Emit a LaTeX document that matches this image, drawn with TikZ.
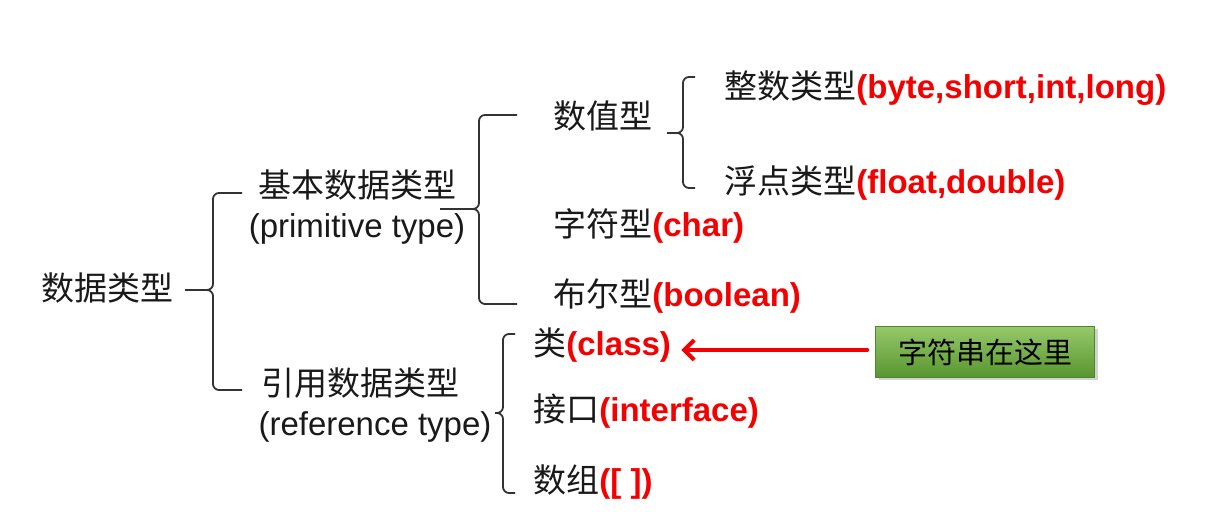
\documentclass[tikz,border=0pt]{standalone}
\usepackage{fontspec}
\setmainfont{Liberation Sans}
\newfontfamily\cjk{Noto Sans CJK SC}
\usepackage{tikz}
\usetikzlibrary{arrows.meta,positioning,shadows}

\definecolor{hlred}{RGB}{245,0,0}
\definecolor{boxtop}{RGB}{150,200,106}
\definecolor{boxbot}{RGB}{88,150,48}
\newcommand{\zh}[1]{{\cjk #1}}
\newcommand{\hl}[1]{\textcolor{hlred}{\bfseries #1}}
% brace: tip x, tip y, spine x, top y, bottom y, arm x
\newcommand{\curly}[6]{%
  \draw[brk] (#1,#2) -| (#3,#4) -- (#6,#4);
  \draw[brk] (#1,#2) -| (#3,#5) -- (#6,#5);}

\begin{document}
\begin{tikzpicture}[x=0.5pt, y=-0.5pt,
  lbl/.style={inner sep=0pt, font=\fontsize{16.5}{20}\selectfont, text=black!90},
  item/.style={lbl, anchor=west},
  brk/.style={draw=black!80, line width=0.9pt, rounded corners=3pt},
  notebox/.style={inner sep=0pt, minimum width=109.5pt, minimum height=25.5pt,
    top color=boxtop, bottom color=boxbot, draw=boxbot!90!black, line width=0.3pt,
    drop shadow={opacity=0.35, shadow xshift=1.5pt, shadow yshift=-1.5pt},
    font=\fontsize{14.5}{18}\selectfont\cjk},
]
\useasboundingbox[fill=white] (0,0) rectangle (1227,512);

% root
\node[lbl] (root) at (107,288) {\zh{数据类型}};

% primitive / reference
\node[lbl] (prim) at (357,185) {\zh{基本数据类型}};
\node[lbl] (primen) at (357,229) {(primitive type)};
\node[lbl] (ref) at (360,383) {\zh{引用数据类型}};
\node[lbl] (refen) at (375,427) {(reference type)};

% primitive kinds
\node[item] (num) at (553,116) {\zh{数值型}};
\node[item] (chr) at (553,226) {\zh{字符型}\hl{(char)}};
\node[item] (bool) at (553,296) {\zh{布尔型}\hl{(boolean)}};
\node[item] (int) at (724,88) {\zh{整数类型}\hl{(byte,short,int,long)}};
\node[item] (flt) at (724,183) {\zh{浮点类型}\hl{(float,double)}};

% reference kinds
\node[item] (cls) at (533,345) {\zh{类}\hl{(class)}};
\node[item] (intf) at (533,411) {\zh{接口}\hl{(interface)}};
\node[item] (arr) at (533,482) {\zh{数组}\hl{([ ])}};

% note
\node[notebox] (note) at (985,352) {字符串在这里};
\draw[hlred, line width=2pt, line cap=round, -{Straight Barb[length=5pt,width=10pt]},
  shorten >=5pt, shorten <=4pt] ([yshift=1pt]note.west) -- ([yshift=1pt]cls.east |- note.west);

% braces
\curly{185}{290}{213}{193}{390}{242}
\curly{440}{209}{479}{115}{304}{517}
\curly{667}{133}{683}{77}{188}{695}
\curly{495}{413}{503}{334}{493}{515}
\end{tikzpicture}
\end{document}
